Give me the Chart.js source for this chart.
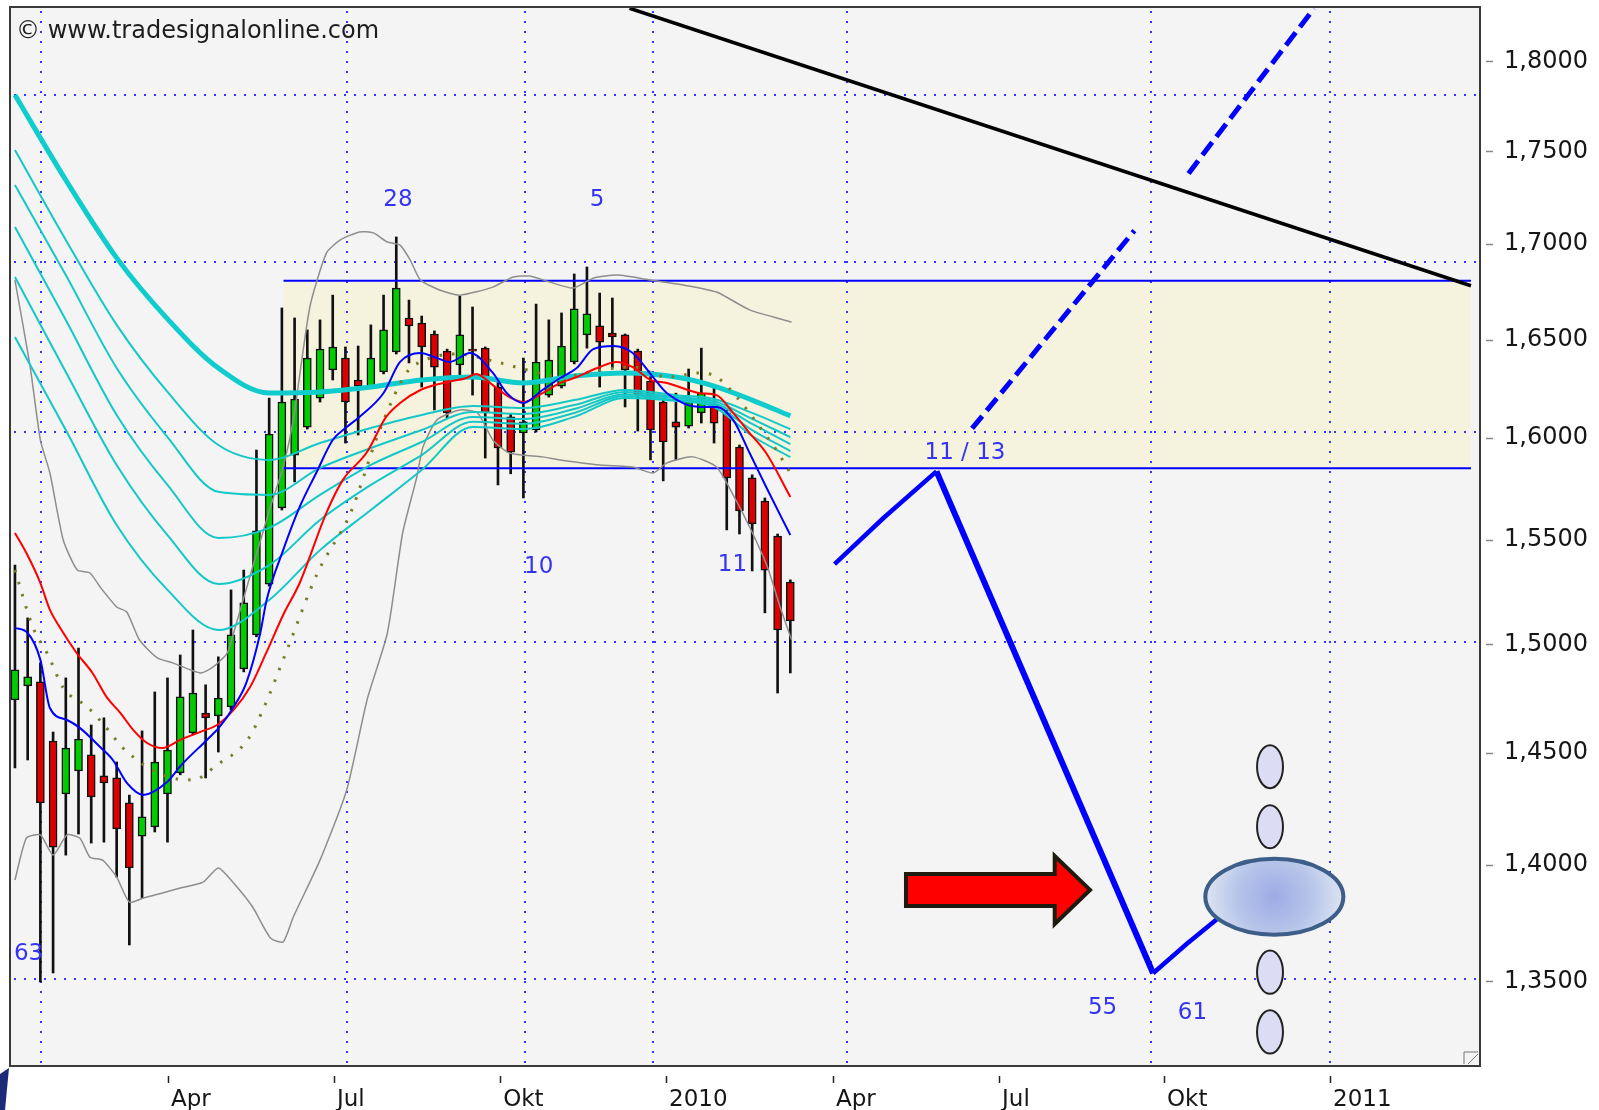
<!DOCTYPE html>
<html>
<head>
<meta charset="utf-8">
<title>GBP/USD weekly</title>
<script src="https://cdn.jsdelivr.net/npm/chart.js@4.4.1/dist/chart.umd.min.js"></script>
<style>
  html, body { margin:0; padding:0; background:#fff; }
  #wrap { width:1599px; height:1110px; }
</style>
</head>
<body>
<div id="wrap"><canvas id="chart" width="1599" height="1110"></canvas></div>
<script>
const $ = (id) => document.getElementById(id);

// weekly candles, x = week number (week 0 = first week of Jan 2009)
const opens  = [1.4742,1.4807,1.4826,1.4554,1.4315,1.4419,1.4491,1.4396,1.4387,1.4275,
                1.4128,1.4168,1.4315,1.4410,1.4591,1.4682,1.4669,1.4710,1.4886,1.5045,
                1.5286,1.5654,1.5915,1.6055,1.6201,1.6344,1.6405,1.6293,1.6262,1.6334,
                1.6436,1.6612,1.6586,1.6529,1.6441,1.6370,1.6451,1.6456,1.6257,1.6106,
                1.6025,1.6040,1.6216,1.6262,1.6385,1.6524,1.6571,1.6534,1.6524,1.6441,
                1.6288,1.6181,1.6081,1.6060,1.6126,1.6166,1.6126,1.5955,1.5802,1.5688,
                1.5517,1.5296];
const highs  = [1.5377,1.5125,1.4914,1.4595,1.4844,1.4983,1.4627,1.4660,1.4459,1.4310,
                1.4600,1.4779,1.4844,1.4951,1.5068,1.4812,1.4942,1.5258,1.5353,1.5940,
                1.6201,1.6664,1.6612,1.6550,1.6602,1.6731,1.6462,1.6467,1.6576,1.6731,
                1.7038,1.6705,1.6622,1.6545,1.6451,1.6726,1.6669,1.6462,1.6293,1.6121,
                1.6405,1.6684,1.6602,1.6638,1.6842,1.6879,1.6742,1.6716,1.6529,1.6451,
                1.6334,1.6191,1.6226,1.6349,1.6456,1.6257,1.6141,1.5965,1.5817,1.5703,
                1.5527,1.5306];
const lows   = [1.4432,1.4468,1.3498,1.3536,1.4044,1.4137,1.4097,1.4101,1.3948,1.3655,
                1.3857,1.4146,1.4101,1.4401,1.4582,1.4387,1.4504,1.4696,1.4872,1.5036,
                1.5276,1.5644,1.5782,1.6045,1.6181,1.6293,1.5975,1.6015,1.6252,1.6324,
                1.6426,1.6380,1.6257,1.6141,1.6101,1.6319,1.6216,1.5900,1.5767,1.5822,
                1.5703,1.6030,1.6206,1.6252,1.6375,1.6456,1.6257,1.6354,1.6156,1.6035,
                1.5891,1.5787,1.5891,1.6050,1.6075,1.5975,1.5547,1.5527,1.5349,1.5149,
                1.4774,1.4867];
const closes = [1.4881,1.4849,1.4275,1.4079,1.4522,1.4563,1.4302,1.4365,1.4159,1.3988,
                1.4213,1.4459,1.4513,1.4756,1.4774,1.4660,1.4751,1.5045,1.5196,1.5542,
                1.6020,1.6181,1.6196,1.6405,1.6451,1.6462,1.6181,1.6262,1.6405,1.6550,
                1.6768,1.6571,1.6462,1.6359,1.6126,1.6524,1.6441,1.6126,1.5950,1.5930,
                1.6081,1.6385,1.6395,1.6467,1.6659,1.6633,1.6487,1.6514,1.6344,1.6216,
                1.6040,1.5980,1.6055,1.6181,1.6226,1.6075,1.5802,1.5639,1.5576,1.5353,
                1.5068,1.5111];

// moving average ribbon (read every few weeks)
const ribbonWeeks = [0,4,8,12,16,20,24,28,32,36,40,44,48,52,55,58,61];
const maSlow = [1.7811,1.7344,1.6927,1.6607,1.6354,1.6227,1.6232,1.6257,1.6293,1.6308,1.6278,1.6313,1.6329,1.6308,1.6262,1.6191,1.6111];
const ma1 = [1.7507,1.7022,1.6576,1.6232,1.5965,1.5891,1.5975,1.6050,1.6116,1.6161,1.6151,1.6191,1.6242,1.6216,1.6196,1.6126,1.6045];
const ma2 = [1.7317,1.6836,1.6354,1.6005,1.5733,1.5718,1.5851,1.5950,1.6040,1.6131,1.6121,1.6166,1.6232,1.6206,1.6186,1.6096,1.6005];
const ma3 = [1.7091,1.6601,1.6116,1.5767,1.5508,1.5557,1.5718,1.5866,1.5980,1.6106,1.6096,1.6146,1.6221,1.6201,1.6176,1.6071,1.5970];
const ma4 = [1.6826,1.6334,1.5866,1.5522,1.5286,1.5377,1.5595,1.5767,1.5915,1.6081,1.6071,1.6126,1.6211,1.6191,1.6166,1.6040,1.5935];
const ma5 = [1.6513,1.6040,1.5571,1.5258,1.5068,1.5210,1.5449,1.5644,1.5841,1.6055,1.6045,1.6106,1.6201,1.6186,1.6156,1.6010,1.5905];

const blueWeeks = [0,1,2,2.75,4.1,5.1,6.7,7.7,8.8,10.1,11.9,13.1,15.1,16.1,17.2,18.2,19.3,19.8,21.1,22.4,
                   23.7,25,26.1,27.1,29,30.3,31.9,33.2,34.2,35.8,37.6,38.7,40,41.5,42.9,44.2,45.5,47.1,48.6,50.2,
                   51.3,53.9,55.2,56.5,57.8,59.1,61];
const blueVals  = [1.5078,1.5054,1.4928,1.4705,1.4650,1.4614,1.4527,1.4468,1.4365,1.4311,1.4365,1.4446,1.4559,1.4618,1.4710,1.4821,1.5054,1.5210,1.5449,1.5659,
                   1.5826,1.5990,1.6055,1.6106,1.6227,1.6385,1.6431,1.6405,1.6385,1.6431,1.6329,1.6226,1.6176,1.6242,1.6303,1.6354,1.6451,1.6467,1.6431,1.6308,
                   1.6226,1.6156,1.6156,1.6091,1.5925,1.5757,1.5522];

const redWeeks = [0,0.9,2,2.75,3.5,4.85,6.1,7.2,8.3,9.3,10.4,11.6,13,14.6,15.9,17.2,18.5,19.8,21.1,22.4,
                  24.5,25.8,27.7,29.2,30.3,31.9,33.7,35.5,36.3,37.6,38.9,40,41.5,42.9,44.2,46,47.3,48.6,50,51.3,
                  53.9,55.2,56.5,57.8,59.1,61];
const redVals  = [1.5532,1.5435,1.5291,1.5163,1.5083,1.4960,1.4867,1.4756,1.4682,1.4605,1.4545,1.4522,1.4559,1.4596,1.4627,1.4696,1.4802,1.4965,1.5139,1.5291,
                  1.5630,1.5792,1.5930,1.6106,1.6176,1.6242,1.6278,1.6303,1.6324,1.6267,1.6206,1.6181,1.6226,1.6278,1.6308,1.6359,1.6385,1.6359,1.6293,1.6278,
                  1.6226,1.6216,1.6126,1.6025,1.5925,1.5708];

const oliveWeeks = [0,1.4,2.6,3.8,5.7,7.2,8.5,11.6,14,15.9,18.3,19.5,21.4,23.8,26.4,28.7,30.8,31.9,34.8,37.6,
                    40.3,42.9,46,48.6,51.3,53.9,55.2,56.8,58.6,59.9,61.1];
const oliveVals  = [1.5353,1.5083,1.4951,1.4798,1.4710,1.4614,1.4522,1.4401,1.4378,1.4446,1.4559,1.4696,1.4974,1.5339,1.5630,1.6040,1.6329,1.6385,1.6426,1.6390,
                    1.6344,1.6308,1.6344,1.6359,1.6308,1.6329,1.6308,1.6206,1.6055,1.5940,1.5817];

// bollinger style envelope
const upperWeeks = [0,1.2,2,2.75,3.8,4.9,5.9,6.7,8,8.8,9.8,11.2,12.4,14.6,15.6,16.7,17.2,18.7,20.1,21.1,
                    21.9,23.2,24.5,25.6,27.1,28.2,29.3,30.3,31.1,31.9,33.4,35,37.6,39.2,40.5,42.1,43.9,45.5,47.4,50,
                    52.6,55.2,57.8,61.1];
const upperVals  = [1.6810,1.6359,1.5990,1.5826,1.5498,1.5353,1.5339,1.5272,1.5177,1.5153,1.5021,1.4937,1.4914,1.4867,1.4895,1.4960,1.5054,1.5368,1.5659,1.5856,
                    1.6091,1.6669,1.6952,1.7022,1.7065,1.7060,1.7011,1.6995,1.6915,1.6810,1.6758,1.6731,1.6773,1.6826,1.6831,1.6799,1.6768,1.6820,1.6836,1.6810,
                    1.6784,1.6747,1.6654,1.6591];
const lowerWeeks = [0,0.9,2,3,4.1,5.1,5.9,6.9,8,9,10.1,11.6,13,14.8,16,17.2,18.7,20.1,21.1,21.9,
                    24,26.1,27.7,29.3,30.5,31.6,32.1,33.2,35,36.4,37.6,38.9,41.5,42.9,46,48.6,50.2,51.3,53.3,55.2,
                    56.5,57.8,59.2,60.2,61.1];
const lowerVals  = [1.3935,1.4119,1.4133,1.4044,1.4133,1.4119,1.4035,1.4022,1.3948,1.3839,1.3857,1.3879,1.3900,1.3926,1.3988,1.3922,1.3818,1.3685,1.3668,1.3775,
                    1.4022,1.4333,1.4742,1.5054,1.5532,1.5802,1.5955,1.6091,1.6141,1.6126,1.5990,1.5925,1.5906,1.5891,1.5866,1.5856,1.5826,1.5876,1.5906,1.5856,
                    1.5718,1.5561,1.5368,1.5177,1.5021];

// projections
const pathWeeks  = [64.48, 68.33, 72.5, 89.54, 92.2, 94.97];
const pathVals   = [1.5382, 1.5605, 1.5834, 1.3535, 1.3660, 1.3784];
const dashWeeks  = [75.3, 88.07, 90, 92.33, 102.2];
const dashVals   = [1.6048, 1.7072, null, 1.7380, 1.8300];
const trendWeeks = [48.35, 114.55];
const trendVals  = [1.8301, 1.6780];
const rangeWeeks = [21.13, 114.55];
const rangeHigh  = 1.6807;
const rangeLow   = 1.5849;

// axes
const quarterWeeks  = [12.04, 25.1, 38.17, 51.22, 64.36, 77.42, 90.4, 103.46];
const quarterLabels = ["Apr","Jul","Okt","2010","Apr","Jul","Okt","2011"];
const priceTicks    = [1.35,1.40,1.45,1.50,1.55,1.60,1.65,1.70,1.75,1.80];
const gridWeeks     = [2.05, 26.12, 40.13, 50.2, 65.46, 89.38, 103.46];
const gridPrices    = [1.7811, 1.6905, 1.6030, 1.5012, 1.3511];

// count labels
const noteTexts  = ["28","5","10","11","63","55","61","11 / 13"];
const noteWeeks  = [30.13, 45.8, 41.2, 56.45, 1.07, 85.57, 92.64, 74.74];
const notePrices = [1.7236, 1.7236, 1.5368, 1.5377, 1.3617, 1.3388, 1.3367, 1.5925];

// drawn shapes (in week / price units)
const arrowWeeks  = [70.1, 81.8, 84.58];                    // tail, neck, tip
const arrowPrices = [1.3961, 1.3822, 1.4040, 1.3745, 1.3892]; // shaft top, shaft bottom, head top, head bottom, tip
const bigOval     = { left:93.65, right:104.51, top:1.4028, bottom:1.3699 };
const ovalWeeks   = [97.72, 99.76];
const ovalTops    = [1.4535, 1.4265, 1.3631, 1.3379];
const ovalBottoms = [1.4341, 1.4074, 1.3448, 1.3199];

const FONT = "'DejaVu Sans', Verdana, sans-serif";
const GREEN = "#00cc00", RED = "#dd0000";

function pts(xs, ys){ return xs.map((x, i) => ({ x, y: ys[i] })); }

function lineSet(data, color, width, order, extra){
  return Object.assign({
    type: "line", data, borderColor: color, borderWidth: width, order,
    pointRadius: 0, fill: false, cubicInterpolationMode: "monotone"
  }, extra || {});
}

const decor = {
  id: "decor",
  beforeDraw(chart){
    const { ctx, chartArea: a } = chart;
    ctx.save();
    ctx.fillStyle = "#f4f4f4";
    ctx.fillRect(a.left, a.top, a.right - a.left, a.bottom - a.top);
    ctx.restore();
  },
  beforeDatasetsDraw(chart){
    const { ctx, chartArea: a, scales: { x, y } } = chart;
    ctx.save();
    ctx.strokeStyle = "#3535ff";
    ctx.lineWidth = 2;
    ctx.setLineDash([2, 8]);
    for(const w of gridWeeks){
      const px = Math.round(x.getPixelForValue(w));
      ctx.beginPath(); ctx.moveTo(px, a.top + 4); ctx.lineTo(px, a.bottom); ctx.stroke();
    }
    for(const p of gridPrices){
      const py = Math.round(y.getPixelForValue(p));
      ctx.beginPath(); ctx.moveTo(a.left + 4, py); ctx.lineTo(a.right, py); ctx.stroke();
    }
    ctx.restore();
  },
  afterDatasetsDraw(chart){
    const { ctx, scales: { x, y } } = chart;
    ctx.save();

    // red arrow
    const tx = x.getPixelForValue(arrowWeeks[0]), nx = x.getPixelForValue(arrowWeeks[1]), px = x.getPixelForValue(arrowWeeks[2]);
    const [st, sb, ht, hb, tp] = arrowPrices.map(v => y.getPixelForValue(v));
    ctx.beginPath();
    ctx.moveTo(tx, st); ctx.lineTo(nx, st); ctx.lineTo(nx, ht); ctx.lineTo(px, tp);
    ctx.lineTo(nx, hb); ctx.lineTo(nx, sb); ctx.lineTo(tx, sb); ctx.closePath();
    ctx.fillStyle = "#ff0000"; ctx.fill();
    ctx.lineWidth = 4; ctx.lineJoin = "miter"; ctx.strokeStyle = "#1e1b0e"; ctx.stroke();

    // small ovals
    const ol = x.getPixelForValue(ovalWeeks[0]), orr = x.getPixelForValue(ovalWeeks[1]);
    for(let i = 0; i < ovalTops.length; i++){
      const t = y.getPixelForValue(ovalTops[i]), b = y.getPixelForValue(ovalBottoms[i]);
      ctx.beginPath();
      ctx.ellipse((ol + orr) / 2, (t + b) / 2, (orr - ol) / 2, (b - t) / 2, 0, 0, Math.PI * 2);
      ctx.fillStyle = "#dcdcf4"; ctx.fill();
      ctx.lineWidth = 2; ctx.strokeStyle = "#222"; ctx.stroke();
    }

    // big oval
    const bl = x.getPixelForValue(bigOval.left), br = x.getPixelForValue(bigOval.right);
    const bt = y.getPixelForValue(bigOval.top), bb = y.getPixelForValue(bigOval.bottom);
    const cx = (bl + br) / 2, cy = (bt + bb) / 2, rx = (br - bl) / 2, ry = (bb - bt) / 2;
    const g = ctx.createRadialGradient(cx, cy, 2, cx, cy, rx);
    g.addColorStop(0, "#9eace6");
    g.addColorStop(0.55, "#b8c6ea");
    g.addColorStop(1, "#dde4f1");
    ctx.beginPath();
    ctx.ellipse(cx, cy, rx, ry, 0, 0, Math.PI * 2);
    ctx.fillStyle = g; ctx.fill();
    ctx.lineWidth = 4; ctx.strokeStyle = "#3c5e88"; ctx.stroke();

    // count labels
    ctx.font = "23px " + FONT;
    ctx.fillStyle = "#3434f2";
    ctx.textAlign = "center";
    ctx.textBaseline = "middle";
    noteTexts.forEach((t, i) => {
      ctx.fillText(t, x.getPixelForValue(noteWeeks[i]), y.getPixelForValue(notePrices[i]));
    });
    ctx.restore();
  },
  afterDraw(chart){
    const { ctx, chartArea: a, scales: { x, y } } = chart;
    ctx.save();
    // frame
    ctx.strokeStyle = "#3a3a3a";
    ctx.lineWidth = 2;
    ctx.strokeRect(a.left, a.top, a.right - a.left, a.bottom - a.top);

    // small tick marks
    ctx.strokeStyle = "#222";
    ctx.lineWidth = 1.5;
    for(const w of quarterWeeks){
      const px = Math.round(x.getPixelForValue(w)) + 0.5;
      ctx.beginPath(); ctx.moveTo(px, a.bottom + 10); ctx.lineTo(px, a.bottom + 17); ctx.stroke();
    }
    ctx.strokeStyle = "#888";
    for(const p of priceTicks){
      const py = Math.round(y.getPixelForValue(p)) + 0.5;
      ctx.beginPath(); ctx.moveTo(a.right + 6, py); ctx.lineTo(a.right + 13, py); ctx.stroke();
    }

    // resize glyph in the corner
    ctx.strokeStyle = "#777";
    ctx.lineWidth = 1;
    ctx.beginPath();
    ctx.moveTo(a.right - 16, a.bottom - 2); ctx.lineTo(a.right - 16, a.bottom - 14);
    ctx.lineTo(a.right - 2, a.bottom - 14); ctx.stroke();
    ctx.beginPath(); ctx.moveTo(a.right - 12, a.bottom - 2); ctx.lineTo(a.right - 2, a.bottom - 12); ctx.stroke();

    // watermark
    ctx.font = "24px " + FONT;
    ctx.fillStyle = "#1e1e1e";
    ctx.textAlign = "left";
    ctx.textBaseline = "alphabetic";
    ctx.fillText("\u00a9 www.tradesignalonline.com", 16, 38);

    // clipped logo corner
    ctx.fillStyle = "#1d2a78";
    ctx.beginPath();
    ctx.moveTo(0, 1074); ctx.lineTo(9, 1068); ctx.lineTo(5, 1110); ctx.lineTo(0, 1110); ctx.closePath();
    ctx.fill();
    ctx.restore();
  }
};

const candleBodies = opens.map((o, i) => ({ x: i, y: [o, closes[i]] }));
const candleWicks  = lows.map((l, i) => ({ x: i, y: [l, highs[i]] }));

const datasets = [
  lineSet(pts(rangeWeeks, [rangeHigh, rangeHigh]), "#0000ff", 2, 35, { cubicInterpolationMode: "default", tension: 0 }),
  lineSet(pts(rangeWeeks, [rangeLow, rangeLow]), "#0000ff", 2, 35, { cubicInterpolationMode: "default", tension: 0, fill: "-1", backgroundColor: "#f5f3dd" }),
  { type: "bar", data: candleWicks, backgroundColor: "#111", borderWidth: 0, barThickness: 2, grouped: false, order: 50 },
  { type: "bar", data: candleBodies, grouped: false, order: 45, barThickness: 8, minBarLength: 2,
    backgroundColor: (c) => closes[c.dataIndex] >= opens[c.dataIndex] ? GREEN : RED,
    borderColor: "#111", borderWidth: 1.5, borderSkipped: false },
  lineSet(pts(upperWeeks, upperVals), "#8e8e8e", 1.5, 30, { cubicInterpolationMode: "default", tension: 0.2 }),
  lineSet(pts(lowerWeeks, lowerVals), "#8e8e8e", 1.5, 30, { cubicInterpolationMode: "default", tension: 0.2 }),
  lineSet(pts(ribbonWeeks, ma5), "#14c8c8", 2, 28),
  lineSet(pts(ribbonWeeks, ma4), "#14c8c8", 2, 28),
  lineSet(pts(ribbonWeeks, ma3), "#14c8c8", 2, 28),
  lineSet(pts(ribbonWeeks, ma2), "#14c8c8", 2, 28),
  lineSet(pts(ribbonWeeks, ma1), "#14c8c8", 2, 28),
  lineSet(pts(ribbonWeeks, maSlow), "#10cccc", 5, 27),
  lineSet(pts(oliveWeeks, oliveVals), "#7d7d28", 3, 26, { borderDash: [2.5, 10] }),
  lineSet(pts(redWeeks, redVals), "#ff0000", 2, 25),
  lineSet(pts(blueWeeks, blueVals), "#0000ff", 2, 24),
  lineSet(pts(pathWeeks, pathVals), "#0000ff", 4, 10, {
    cubicInterpolationMode: "default", tension: 0,
    segment: { borderWidth: (c) => (c.p0DataIndex === 2 ? 6 : 4.5) }
  }),
  lineSet(pts(dashWeeks, dashVals), "#0000ff", 5, 10, { cubicInterpolationMode: "default", tension: 0, borderDash: [16, 7], clip: 0 }),
  lineSet(pts(trendWeeks, trendVals), "#000000", 3.5, 9, { cubicInterpolationMode: "default", tension: 0, clip: 0 })
];

Chart.defaults.font.family = FONT;
Chart.defaults.font.size = 23;
Chart.defaults.color = "#161616";

new Chart($("chart"), {
  type: "line",
  data: { datasets },
  options: {
    responsive: false,
    animation: false,
    devicePixelRatio: 1,
    layout: { padding: { left: 10, top: 7, right: 0, bottom: 0 } },
    plugins: {
      legend: { display: false },
      tooltip: { enabled: false },
      filler: { drawTime: "beforeDatasetsDraw" }
    },
    scales: {
      x: {
        type: "linear", position: "bottom", min: -0.39, max: 115.26, offset: false, bounds: "data",
        grid: { display: false }, border: { display: false },
        afterBuildTicks: (s) => { s.ticks = quarterWeeks.map(v => ({ value: v })); },
        afterFit: (s) => { s.height = 44; s.paddingLeft = 0; s.paddingRight = 0; },
        ticks: {
          autoSkip: false, maxRotation: 0, minRotation: 0, align: "start", labelOffset: 3, padding: 12,
          callback: (v, i) => quarterLabels[i]
        }
      },
      y: {
        type: "logarithmic", position: "right", min: 1.3148, max: 1.8308, bounds: "data",
        grid: { display: false }, border: { display: false },
        afterBuildTicks: (s) => { s.ticks = priceTicks.map(v => ({ value: v })); },
        afterFit: (s) => { s.width = 119; s.paddingTop = 0; s.paddingBottom = 0; },
        ticks: {
          autoSkip: false, padding: 16, font: { size: 24 },
          callback: (v) => Number(v).toFixed(4).replace(".", ",")
        }
      }
    }
  },
  plugins: [decor]
});
</script>
</body>
</html>
